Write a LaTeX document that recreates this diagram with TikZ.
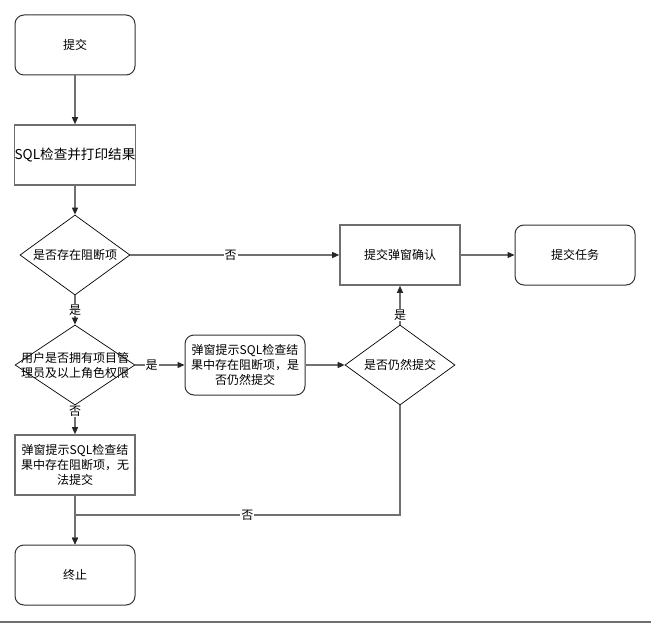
\documentclass[tikz,border=0pt]{standalone}
\usepackage{fontspec}
\setmainfont{Noto Sans CJK SC}
\usetikzlibrary{shapes.geometric,arrows.meta}
\definecolor{boxgray}{HTML}{6E6E6E}
\definecolor{linegray}{HTML}{707070}
\tikzset{
  base/.style={font=\fontsize{12}{15}\selectfont, align=center, text=black, inner sep=0pt},
  procbox/.style={base, draw=boxgray, line width=1.6pt, minimum width=120pt, minimum height=60pt},
  roundbox/.style={procbox, rounded corners=9pt, draw=black!80, line width=1pt},
  decision/.style={base, diamond, draw=black, line width=0.7pt, aspect=1.375, minimum width=110pt, minimum height=80pt, inner sep=0pt},
  conn/.style={draw=linegray, line width=1.3pt, -{Triangle[length=7pt,width=6pt,color=black!85]}},
  lbl/.style={base, fill=white, inner sep=1pt}
}
\begin{document}
\begin{tikzpicture}[x=1pt,y=-1pt]
\useasboundingbox (0,0) rectangle (651,623);
\fill[white] (0,0) rectangle (651,623);
\draw[linegray, line width=1.2pt] (0,622) -- (651,622);

\node[roundbox] (n1) at (75,45) {提交};
\node[procbox, font=\fontsize{13.6}{16}\selectfont] (n2) at (75,155) {SQL检查并打印结果};
\node[decision] (d1) at (75,255) {是否存在阻断项};
\node[procbox] (n3) at (400,255) {提交弹窗确认};
\node[roundbox] (n4) at (575,255) {提交任务};
\node[decision, minimum width=120pt, minimum height=80pt, aspect=1.5] (d2) at (75,365) {};
\node[base] (d2t) at (75,365) {用户是否拥有项目管\\理员及以上角色权限};
\node[roundbox] (n5) at (245,365) {弹窗提示SQL检查结\\果中存在阻断项，是\\否仍然提交};
\node[decision] (d3) at (400,365) {是否仍然提交};
\node[procbox] (n6) at (75,465) {弹窗提示SQL检查结\\果中存在阻断项，无\\法提交};
\node[roundbox] (n7) at (75,575) {终止};
\coordinate (j) at (75,515);

\draw[conn] (n1) -- (n2);
\draw[conn] (n2) -- (d1);
\draw[conn] (d1) -- node[lbl, pos=0.48] {否} (n3);
\draw[conn] (n3) -- (n4);
\draw[conn] (d1) -- node[lbl] {是} (d2);
\draw[conn] (d2) -- node[lbl, pos=0.33] {是} (n5);
\draw[conn] (n5) -- (d3);
\draw[conn] (d3) -- node[lbl, pos=0.25] {是} (n3);
\draw[conn] (d2) -- node[lbl, pos=0.2] {否} (n6);
\draw[conn] (n6) -- (n7);
\draw[conn] (d3.south) |- node[lbl, pos=0.735] {否} (j) -- (n7.north);
\end{tikzpicture}
\end{document}
